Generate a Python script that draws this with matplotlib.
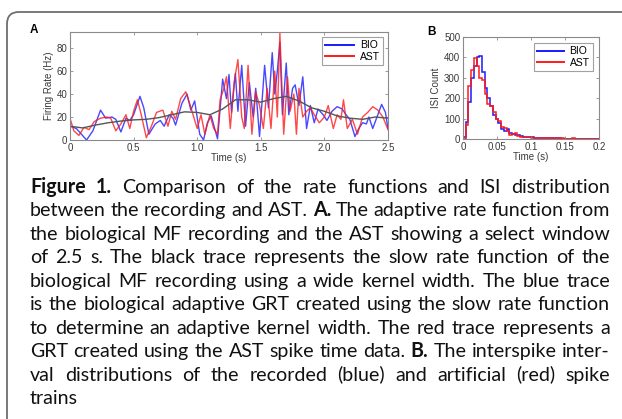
import numpy as np
import matplotlib
matplotlib.use("Agg")
import matplotlib.pyplot as plt
from matplotlib.path import Path
from matplotlib.patches import PathPatch

# ---------------- data ----------------
bio_t = [0.00, 0.05, 0.13, 0.18, 0.24, 0.28, 0.33, 0.36, 0.40, 0.44, 0.47, 0.50, 0.55, 0.58, 0.62,
         0.67, 0.71, 0.74, 0.78, 0.81, 0.83, 0.88, 0.92, 0.95, 0.98, 1.02, 1.05, 1.08, 1.11, 1.16,
         1.20, 1.23, 1.25, 1.27, 1.30, 1.32, 1.35, 1.38, 1.41, 1.44, 1.46, 1.49, 1.53, 1.56, 1.59,
         1.61, 1.63, 1.65, 1.67, 1.70, 1.72, 1.75, 1.77, 1.80, 1.83, 1.86, 1.89, 1.92, 1.95, 1.99,
         2.02, 2.06, 2.10, 2.14, 2.17, 2.20, 2.24, 2.27, 2.30, 2.33, 2.35, 2.38, 2.42, 2.45, 2.48, 2.50]
bio_v = [12, 10, 0, 8, 26, 19, 20, 18, 7, 19, 17, 22, 38, 28, 5,
         14, 17, 12, 22, 19, 13, 32, 40, 26, 34, 5, 0, 15, 21, 1,
         53, 36, 57, 24, 58, 25, 65, 12, 50, 20, 45, 3, 65, 28, 76,
         40, 60, 85, 22, 67, 22, 45, 48, 30, 55, 10, 30, 15, 27, 22,
         17, 25, 29, 27, 22, 18, 3, 10, 15, 14, 20, 10, 22, 31, 24, 10]

ast_t = [0.00, 0.03, 0.07, 0.11, 0.15, 0.19, 0.24, 0.29, 0.32, 0.36, 0.40, 0.44, 0.47, 0.50, 0.53,
         0.56, 0.60, 0.64, 0.68, 0.73, 0.77, 0.80, 0.83, 0.87, 0.91, 0.94, 0.97, 1.00, 1.03, 1.06,
         1.10, 1.13, 1.16, 1.18, 1.21, 1.23, 1.26, 1.29, 1.32, 1.35, 1.37, 1.40, 1.43, 1.46, 1.49,
         1.52, 1.55, 1.58, 1.61, 1.63, 1.65, 1.68, 1.71, 1.73, 1.76, 1.78, 1.80, 1.83, 1.86, 1.89,
         1.92, 1.96, 2.00, 2.03, 2.07, 2.10, 2.13, 2.15, 2.18, 2.22, 2.26, 2.30, 2.34, 2.38, 2.42,
         2.46, 2.50]
ast_v = [19, 8, 4, 11, 9, 16, 19, 20, 19, 8, 14, 22, 10, 25, 35,
         22, 2, 12, 24, 26, 12, 25, 18, 36, 42, 32, 21, 10, 22, 5,
         22, 10, 5, 35, 45, 55, 10, 50, 70, 20, 10, 65, 5, 42, 30,
         10, 45, 10, 60, 20, 93, 5, 55, 25, 40, 5, 45, 20, 25, 28,
         22, 15, 20, 30, 10, 22, 18, 35, 10, 18, 5, 20, 24, 29, 26,
         20, 9]

slow_t = [0.0, 0.1, 0.2, 0.3, 0.4, 0.5, 0.6, 0.7, 0.8, 0.9, 1.0, 1.1, 1.2, 1.3, 1.4, 1.5, 1.6,
          1.7, 1.8, 1.9, 2.0, 2.1, 2.2, 2.3, 2.4, 2.5]
slow_v = [12, 10.5, 13, 15, 16.5, 17.5, 18, 19.5, 22, 24.5, 24, 22, 27, 35, 35, 33, 36,
          38, 34, 28, 25, 21, 19, 18, 20, 19]

isi_edges = np.round(np.arange(0, 0.2001, 0.004), 4)
isi_bio = [10, 85, 180, 300, 360, 400, 405, 330, 250, 200, 160, 120, 100, 80, 50, 40, 50, 30, 25, 20,
           18, 15, 12, 10, 8, 8, 7, 6, 5, 5, 4, 4, 3, 3, 3, 3, 2, 2, 2, 2, 2, 1, 2, 1, 1, 1, 1, 1, 1, 1]
isi_ast = [0, 70, 260, 340, 395, 360, 300, 290, 220, 170, 160, 130, 100, 90, 60, 55, 40, 20, 25, 30,
           15, 12, 10, 8, 8, 7, 6, 6, 5, 4, 4, 3, 3, 3, 3, 2, 3, 2, 2, 2, 6, 2, 2, 1, 1, 1, 1, 1, 1, 1]

a_xticks = [0, 0.5, 1.0, 1.5, 2.0, 2.5]
a_xticklabels = ["0", "0.5", "1.0", "1.5", "2.0", "2.5"]
a_yticks = [0, 20, 40, 60, 80]
b_xticks = [0, 0.05, 0.1, 0.15, 0.2]
b_xticklabels = ["0", "0.05", "0.1", "0.15", "0.2"]
b_yticks = [0, 100, 200, 300, 400, 500]

caption_lines = [
    "Figure 1. Comparison of the rate functions and ISI distribution",
    "between the recording and AST. A. The adaptive rate function from",
    "the biological MF recording and the AST showing a select window",
    "of 2.5 s. The black trace represents the slow rate function of the",
    "biological MF recording using a wide kernel width. The blue trace",
    "is the biological adaptive GRT created using the slow rate function",
    "to determine an adaptive kernel width. The red trace represents a",
    "GRT created using the AST spike time data. B. The interspike inter-",
    "val distributions of the recorded (blue) and artificial (red) spike",
    "trains",
]
bold_words = {"Figure", "1.", "A.", "B."}

# ---------------- figure ----------------
W, H = 622, 419
fig = plt.figure(figsize=(W / 100, H / 100), dpi=100)
fig.patch.set_facecolor("white")

def fx(px):
    return px / W

def fy(py):
    return 1 - py / H

TICKC = "#3a3a3a"
SPINEC = "#8a8a8a"
CHART_FONT = "Liberation Sans"
TS = 7

def style_axes(ax):
    for s in ax.spines.values():
        s.set_color(SPINEC)
        s.set_linewidth(0.8)
    ax.tick_params(direction="in", length=2.5, width=0.6, color=SPINEC,
                   labelsize=TS, labelcolor=TICKC, top=True, right=True, pad=2)
    for lab in ax.get_xticklabels() + ax.get_yticklabels():
        lab.set_fontfamily(CHART_FONT)

# Panel A
axA = fig.add_axes([fx(70), fy(140), fx(388) - fx(70), fy(32) - fy(140)])
axA.plot(bio_t, bio_v, color="#1a1aff", lw=1.0, alpha=0.8, label="BIO")
axA.plot(ast_t, ast_v, color="#ff1a1a", lw=1.0, alpha=0.8, label="AST")
axA.plot(slow_t, slow_v, color="#555555", lw=1.0)
axA.set_xlim(0, 2.5)
axA.set_ylim(0, 94)
axA.set_xticks(a_xticks)
axA.set_xticklabels(a_xticklabels)
axA.set_yticks(a_yticks)
style_axes(axA)
axA.set_xlabel("Time (s)", fontsize=TS, color=TICKC, family=CHART_FONT, labelpad=0)
axA.set_ylabel("Firing Rate (Hz)", fontsize=TS, color=TICKC, family=CHART_FONT, labelpad=2)
legA = axA.legend(loc="upper right", frameon=True, fancybox=False,
                  edgecolor=SPINEC, handlelength=2.8, borderpad=0.3, labelspacing=0.15,
                  handletextpad=0.5, borderaxespad=0.5, prop={"family": CHART_FONT, "size": 7.5})
legA.get_frame().set_linewidth(0.8)

# Panel B
axB = fig.add_axes([fx(463), fy(139), fx(599) - fx(463), fy(37) - fy(139)])
axB.stairs(isi_bio, isi_edges, color="#1a1aff", lw=1.1, label="BIO")
axB.stairs(isi_ast, isi_edges, color="#ff1a1a", lw=1.1, label="AST")
axB.set_xlim(0, 0.2)
axB.set_ylim(0, 500)
axB.set_xticks(b_xticks)
axB.set_xticklabels(b_xticklabels)
axB.set_yticks(b_yticks)
style_axes(axB)
axB.set_xlabel("Time (s)", fontsize=TS, color=TICKC, family=CHART_FONT, labelpad=0)
axB.set_ylabel("ISI Count", fontsize=TS, color=TICKC, family=CHART_FONT, labelpad=2)
legB = axB.legend(loc="upper right", frameon=True, fancybox=False,
                  edgecolor=SPINEC, handlelength=2.6, borderpad=0.3, labelspacing=0.15,
                  handletextpad=0.5, borderaxespad=0.6, prop={"family": CHART_FONT, "size": 7.5})
legB.get_frame().set_linewidth(0.8)
for lg in (legA, legB):
    for ln in lg.get_lines():
        ln.set_linewidth(1.4)
        ln.set_alpha(1)

fig.text(fx(30), fy(33), "A", fontsize=8.5, fontweight="bold", family=CHART_FONT,
         va="baseline", ha="left")
fig.text(fx(427), fy(35), "B", fontsize=8.5, fontweight="bold", family=CHART_FONT,
         va="baseline", ha="left")

# Frame with rounded top-left corner
r = 12
verts = [(fx(7), fy(H + 2)), (fx(7), fy(12 + r)), (fx(7), fy(12)), (fx(7 + r), fy(12)),
         (fx(W + 2), fy(12))]
codes = [Path.MOVETO, Path.LINETO, Path.CURVE3, Path.CURVE3, Path.LINETO]
fig.add_artist(PathPatch(Path(verts, codes), transform=fig.transFigure, fill=False,
                         edgecolor="#6e6e6e", lw=1.3))

# ---------------- caption (justified) ----------------
CAP_FONT = "Lato"
renderer = fig.canvas.get_renderer()
left_px, right_px = 30, 610
base0, step = 193, 23.45

def word_width(word, size):
    t = fig.text(0, 0, word, fontsize=size, family=CAP_FONT,
                 fontweight="bold" if word in bold_words else "normal")
    w = t.get_window_extent(renderer).width
    t.remove()
    return w

ref_size = 10.0
sp_ref = word_width("a b", ref_size) - word_width("a", ref_size) - word_width("b", ref_size)
nat = []
for line in caption_lines[:-1]:
    words = line.split(" ")
    nat.append(sum(word_width(w, ref_size) for w in words) + sp_ref * (len(words) - 1))
cap_size = ref_size * (right_px - left_px) / max(nat)

for i, line in enumerate(caption_lines):
    words = line.split(" ")
    widths = [word_width(w, cap_size) for w in words]
    if i < len(caption_lines) - 1 and len(words) > 1:
        gap = (right_px - left_px - sum(widths)) / (len(words) - 1)
    else:
        gap = sp_ref * cap_size / ref_size
    x = left_px
    yb = base0 + i * step
    for w, wd in zip(words, widths):
        fig.text(fx(x), fy(yb), w, fontsize=cap_size, family=CAP_FONT,
                 fontweight="bold" if w in bold_words else "normal",
                 va="baseline", ha="left", color="#111111")
        x += wd + gap

fig.savefig("out.png", dpi=100, facecolor="white")
